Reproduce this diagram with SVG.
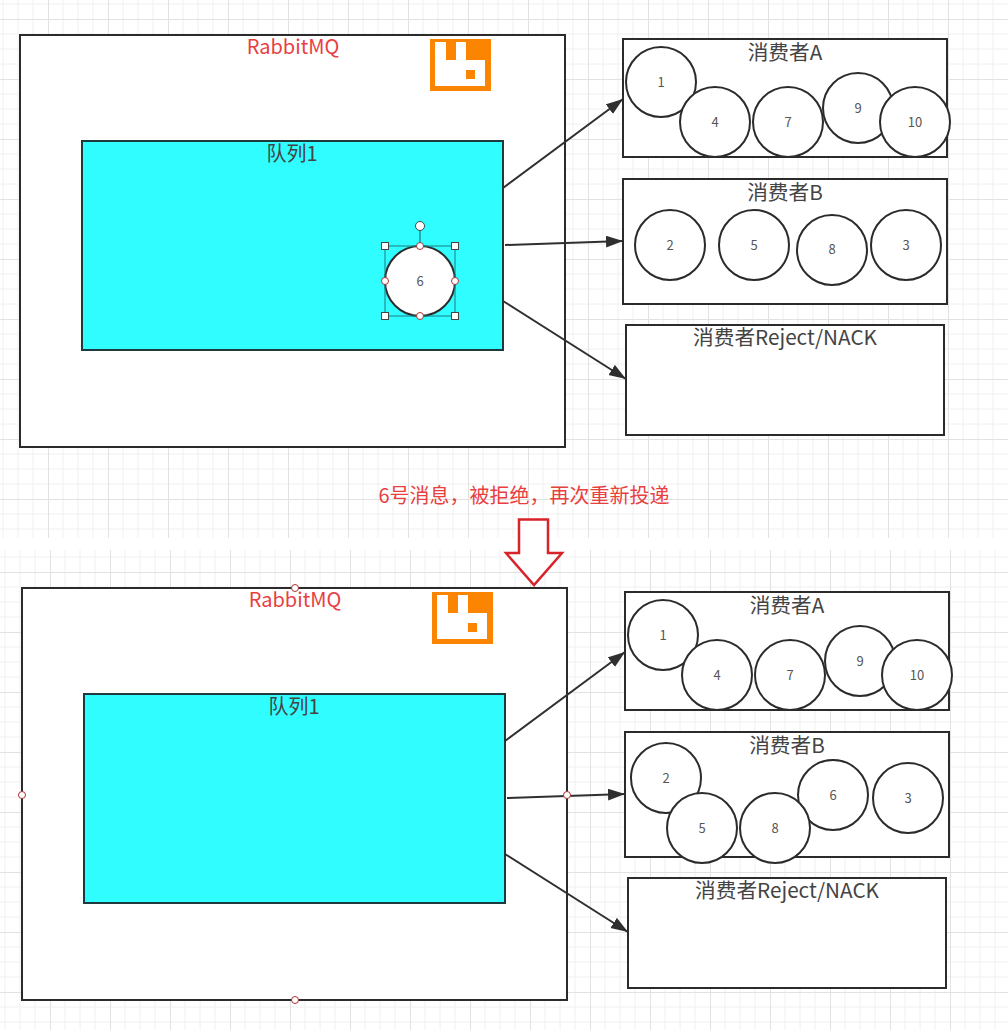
<svg xmlns="http://www.w3.org/2000/svg" width="1008" height="1030" viewBox="0 0 1008 1030">
<style>
text{font-family:"Noto Sans CJK SC","Noto Sans",sans-serif;text-anchor:middle}
.box{fill:#fff;stroke:#2b2b2b;stroke-width:2}
.q{fill:#2ffdff;stroke:#1f3a3c;stroke-width:2}
.c{fill:#fff;stroke:#2b2b2b;stroke-width:2}
.n{font-size:13px;fill:#555}
.t{font-size:20px;fill:#444}
.u{font-size:20.7px;fill:#444}
.r{font-size:20px;fill:#e8403f}
.o{fill:#fb8500}
.w{fill:#fff}
.cn{stroke:#2f2f2f;stroke-width:2;fill:none;marker-end:url(#a)}
.h{fill:#fff;stroke:#444;stroke-width:1}
.p{fill:#fff;stroke:#a33;stroke-width:1}
</style>
<defs>
<marker id="a" markerUnits="userSpaceOnUse" markerWidth="18" markerHeight="14" refX="17" refY="6" orient="auto"><path d="M0 0L17 6L0 12Z" fill="#2f2f2f"/></marker>
<pattern id="g1" width="60" height="60" patternUnits="userSpaceOnUse" x="48" y="19"><path d="M15 0V60M30 0V60M45 0V60M0 15H60M0 30H60M0 45H60" stroke="#f0f0f0" fill="none"/><path d="M.5 0V60M0 .5H60" stroke="#e2e2e2" fill="none"/></pattern>
<pattern id="g2" width="60" height="60" patternUnits="userSpaceOnUse" x="50" y="572"><path d="M15 0V60M30 0V60M45 0V60M0 15H60M0 30H60M0 45H60" stroke="#f0f0f0" fill="none"/><path d="M.5 0V60M0 .5H60" stroke="#e2e2e2" fill="none"/></pattern>
</defs>
<rect width="1008" height="1030" fill="#fff"/>
<rect width="1008" height="538" fill="url(#g1)"/>
<rect y="550" width="1008" height="480" fill="url(#g2)"/>

<g id="broker1"><rect class="box" x="20" y="35" width="545" height="412"/><text class="r" x="293" y="54">RabbitMQ</text></g>
<g id="logo1"><rect class="o" x="430" y="39" width="61" height="52"/><path class="w" d="M435 42H446V60H456V42H466V60H485V86H435Z"/><rect class="o" x="466" y="70" width="9" height="9"/></g>
<g id="queue1"><rect class="q" x="82" y="141" width="421" height="209"/><text class="t" x="292" y="161">队列1</text></g>
<g id="consumerA1"><rect class="box" x="623" y="39" width="324" height="118"/><text class="u" x="785" y="60">消费者A</text></g>
<g id="consumerB1"><rect class="box" x="623" y="179" width="324" height="125"/><text class="u" x="785" y="200">消费者B</text></g>
<g id="consumerR1"><rect class="box" x="626" y="325" width="318" height="110"/><text class="u" x="785" y="345">消费者Reject/NACK</text></g>
<g id="m1a"><circle class="c" cx="661" cy="82" r="35"/><text class="n" x="661" y="87">1</text></g>
<g id="m4a"><circle class="c" cx="715" cy="122" r="35"/><text class="n" x="715" y="127">4</text></g>
<g id="m7a"><circle class="c" cx="788" cy="122" r="35"/><text class="n" x="788" y="127">7</text></g>
<g id="m9a"><circle class="c" cx="858" cy="108" r="35"/><text class="n" x="858" y="113">9</text></g>
<g id="m10a"><circle class="c" cx="915" cy="122" r="35"/><text class="n" x="915" y="127">10</text></g>
<g id="m2a"><circle class="c" cx="670" cy="245" r="35"/><text class="n" x="670" y="250">2</text></g>
<g id="m5a"><circle class="c" cx="754" cy="245" r="35"/><text class="n" x="754" y="250">5</text></g>
<g id="m8a"><circle class="c" cx="832" cy="250" r="35"/><text class="n" x="832" y="254">8</text></g>
<g id="m3a"><circle class="c" cx="906" cy="245" r="35"/><text class="n" x="906" y="250">3</text></g>
<g id="m6a"><circle class="c" cx="420" cy="281" r="35"/><text class="n" x="420" y="286">6</text></g>
<g id="selection">
<rect x="385" y="246" width="70" height="70" fill="none" stroke="#1f7a80" stroke-width="1"/>
<path d="M420 231V246" stroke="#1f5a60"/>
<circle class="h" cx="420" cy="226" r="4.500"/>
<rect class="h" x="381.500" y="242.500" width="7" height="7"/><rect class="h" x="451.500" y="242.500" width="7" height="7"/><rect class="h" x="381.500" y="312.500" width="7" height="7"/><rect class="h" x="451.500" y="312.500" width="7" height="7"/>
<circle class="p" cx="420" cy="246" r="3.500"/><circle class="p" cx="385" cy="281" r="3.500"/><circle class="p" cx="455" cy="281" r="3.500"/><circle class="p" cx="420" cy="316" r="3.500"/>
</g>

<g id="note"><text x="524" y="503" font-size="20" fill="#e8403f">6号消息，被拒绝，再次重新投递</text></g>
<g id="downArrow"><path d="M519 519.500H548V553H562L534 585L506 553H519Z" fill="#fff" stroke="#d8232a" stroke-width="2.500"/></g>

<g id="broker2"><rect class="box" x="22" y="588" width="545" height="412"/><text class="r" x="295" y="607">RabbitMQ</text></g>
<g id="logo2"><rect class="o" x="432" y="592" width="61" height="52"/><path class="w" d="M437 595H448V613H458V595H468V613H487V639H437Z"/><rect class="o" x="468" y="623" width="9" height="9"/></g>
<g id="queue2"><rect class="q" x="84" y="694" width="421" height="209"/><text class="t" x="294" y="714">队列1</text></g>
<g id="consumerA2"><rect class="box" x="625" y="592" width="324" height="118"/><text class="u" x="787" y="613">消费者A</text></g>
<g id="consumerB2"><rect class="box" x="625" y="732" width="324" height="125"/><text class="u" x="787" y="753">消费者B</text></g>
<g id="consumerR2"><rect class="box" x="628" y="878" width="318" height="110"/><text class="u" x="787" y="898">消费者Reject/NACK</text></g>
<g id="m1b"><circle class="c" cx="663" cy="635" r="35"/><text class="n" x="663" y="640">1</text></g>
<g id="m4b"><circle class="c" cx="717" cy="675" r="35"/><text class="n" x="717" y="680">4</text></g>
<g id="m7b"><circle class="c" cx="790" cy="675" r="35"/><text class="n" x="790" y="680">7</text></g>
<g id="m9b"><circle class="c" cx="860" cy="661" r="35"/><text class="n" x="860" y="666">9</text></g>
<g id="m10b"><circle class="c" cx="917" cy="675" r="35"/><text class="n" x="917" y="680">10</text></g>
<g id="m2b"><circle class="c" cx="666" cy="778" r="35"/><text class="n" x="666" y="783">2</text></g>
<g id="m6b"><circle class="c" cx="833" cy="795" r="35"/><text class="n" x="833" y="800">6</text></g>
<g id="m5b"><circle class="c" cx="702" cy="828" r="35"/><text class="n" x="702" y="833">5</text></g>
<g id="m8b"><circle class="c" cx="775" cy="828" r="35"/><text class="n" x="775" y="833">8</text></g>
<g id="m3b"><circle class="c" cx="908" cy="798" r="35"/><text class="n" x="908" y="803">3</text></g>

<g id="connectors">
<path class="cn" d="M503 188L623 99"/>
<path class="cn" d="M505 245L623 241"/>
<path class="cn" d="M503 301L626 379"/>
<path class="cn" d="M505 741L625 652"/>
<path class="cn" d="M507 798L625 794"/>
<path class="cn" d="M505 854L628 932"/>
</g>
<g id="handles2">
<circle class="p" cx="295" cy="588" r="3.500"/><circle class="p" cx="22" cy="795" r="3.500"/><circle class="p" cx="567" cy="795" r="3.500"/><circle class="p" cx="295" cy="1000" r="3.500"/>
</g>
</svg>
